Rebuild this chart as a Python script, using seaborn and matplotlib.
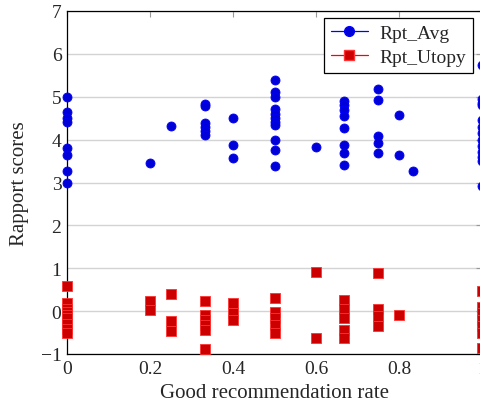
import matplotlib
matplotlib.use("Agg")
import matplotlib.pyplot as plt
import seaborn as sns
import pandas as pd
from matplotlib.lines import Line2D

# Rapport scores vs good recommendation rate
avg_x = ([0.0] * 8 + [0.2, 0.25] + [1/3] * 6 + [0.4] * 3 + [0.5] * 11 + [0.6]
         + [2/3] * 8 + [0.75] * 5 + [0.8] * 2 + [5/6] + [1.0] * 13)
avg_y = [5.0, 4.65, 4.5, 4.4, 3.81, 3.63, 3.27, 3.0,
         3.46, 4.32,
         4.83, 4.78, 4.38, 4.3, 4.2, 4.1,
         4.5, 3.87, 3.58,
         5.38, 5.1, 5.0, 4.72, 4.6, 4.5, 4.42, 4.33, 4.0, 3.75, 3.38,
         3.82,
         4.91, 4.8, 4.68, 4.56, 4.27, 3.87, 3.69, 3.41,
         5.19, 4.92, 4.09, 3.92, 3.69,
         4.58, 3.65,
         3.27,
         5.75, 4.95, 4.85, 4.8, 4.45, 4.3, 4.15, 4.0, 3.85, 3.7, 3.6, 3.5, 2.93]

utopy_x = ([0.0] * 9 + [0.2] * 2 + [0.25] * 3 + [1/3] * 6 + [0.4] * 3 + [0.5] * 5
           + [0.6] * 2 + [2/3] * 5 + [0.75] * 4 + [0.8] + [1.0] * 7)
utopy_y = [0.59, 0.18, 0.06, -0.02, -0.09, -0.17, -0.29, -0.41, -0.52,
           0.23, 0.02,
           0.39, -0.23, -0.47,
           0.23, -0.09, -0.21, -0.33, -0.45, -0.89,
           0.18, -0.05, -0.21,
           0.3, -0.03, -0.17, -0.33, -0.5,
           0.92, -0.63,
           0.26, 0.06, -0.16, -0.45, -0.63,
           0.9, 0.06, -0.11, -0.34,
           -0.08,
           0.47, 0.1, -0.05, -0.2, -0.35, -0.5, -0.86]

df = pd.concat([
    pd.DataFrame({"rate": avg_x, "score": avg_y, "series": "Rpt_Avg"}),
    pd.DataFrame({"rate": utopy_x, "score": utopy_y, "series": "Rpt_Utopy"}),
])

sns.set_style("white")
plt.rcParams["font.family"] = ["Liberation Serif", "DejaVu Serif"]

fig = plt.figure(figsize=(4.81, 4.06), dpi=100)
ax = fig.add_axes([67 / 481, 51 / 406, 415 / 481, 343 / 406])

blue_fill, blue_edge = "#0000d8", "#0000ff"
red_fill, red_edge = "#cc0000", "#ff3333"

sub = df[df.series == "Rpt_Avg"]
sns.scatterplot(data=sub, x="rate", y="score", ax=ax, marker="o", s=42,
                color=blue_fill, edgecolor=blue_edge, linewidth=0.6,
                clip_on=False, zorder=3, legend=False)
sub = df[df.series == "Rpt_Utopy"]
sns.scatterplot(data=sub, x="rate", y="score", ax=ax, marker="s", s=48,
                color=red_fill, edgecolor=red_edge, linewidth=0.6,
                clip_on=False, zorder=3, legend=False)

ax.set_xlim(0, 1)
ax.set_ylim(-1, 7)
ax.set_xticks([0, 0.2, 0.4, 0.6, 0.8, 1])
ax.set_xticklabels(["0", "0.2", "0.4", "0.6", "0.8", "1"])
ax.set_yticks(range(-1, 8))
ax.set_yticklabels(["\u22121"] + [str(i) for i in range(0, 8)])
ax.yaxis.grid(True, color="#d3d3d3", linewidth=1.0)
ax.set_axisbelow(True)
ax.tick_params(direction="in", top=True, right=True, length=4,
               width=0.8, color="#999999", labelsize=14, pad=4)
for sp in ax.spines.values():
    sp.set_color("black")
    sp.set_linewidth(0.9)

ax.set_xlabel("Good recommendation rate", fontsize=15, labelpad=5)
ax.set_ylabel("Rapport scores", fontsize=15, labelpad=8)

handles = [
    Line2D([], [], color="#0000ff", lw=0.9, marker="o", markersize=7,
           markerfacecolor=blue_fill, markeredgecolor=blue_edge),
    Line2D([], [], color="#ff0000", lw=0.9, marker="s", markersize=7,
           markerfacecolor=red_fill, markeredgecolor=red_edge),
]
leg = ax.legend(handles, ["Rpt_Avg", "Rpt_Utopy"], loc="upper right",
                bbox_to_anchor=(0.978, 0.98), borderaxespad=0, fontsize=14,
                frameon=True, fancybox=False, edgecolor="black", framealpha=1,
                handlelength=1.9, borderpad=0.35, labelspacing=0.3,
                handletextpad=0.6)
leg.get_frame().set_linewidth(0.9)

fig.savefig("out.png", dpi=100)
